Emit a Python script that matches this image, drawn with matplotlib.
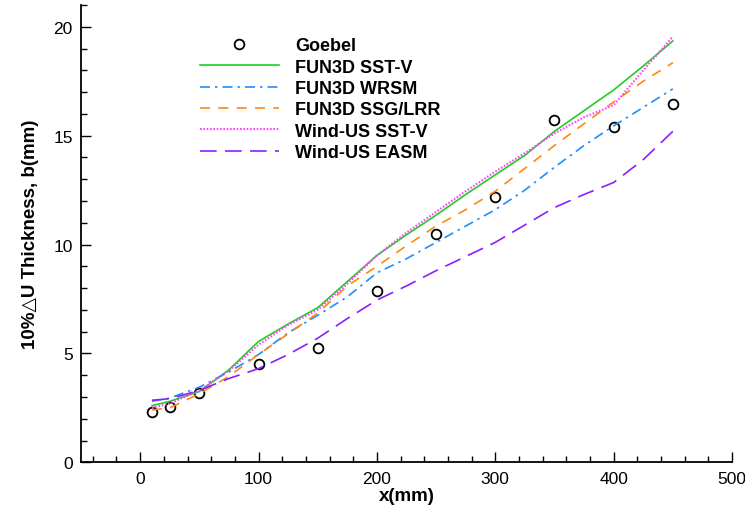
import numpy as np
import matplotlib
matplotlib.use("Agg")
import matplotlib.pyplot as plt
from matplotlib.ticker import MultipleLocator

plt.rcParams['font.family'] = ['Liberation Sans', 'DejaVu Sans']

# experiment
x_exp = [10, 25, 50, 100, 150, 200, 250, 300, 350, 400, 450]
b_exp = [2.31, 2.54, 3.18, 4.51, 5.24, 7.86, 10.5, 12.2, 15.7, 15.4, 16.44]

# CFD
x_cfd = [10, 25, 50, 75, 100, 125, 150, 175, 200, 225, 250, 275, 300, 325, 350, 375, 400, 425, 450]
fun3d_sst = [2.6, 2.8, 3.25, 4.25, 5.55, 6.35, 7.1, 8.3, 9.5, 10.45, 11.35, 12.3, 13.2, 14.1, 15.2, 16.15, 17.1, 18.2, 19.35]
fun3d_wrsm = [2.8, 2.95, 3.45, 4.15, 4.95, 5.95, 6.75, 7.6, 8.7, 9.35, 10.1, 10.85, 11.6, 12.5, 13.55, 14.55, 15.45, 16.3, 17.15]
fun3d_ssg = [2.4, 2.5, 3.15, 3.95, 4.95, 5.9, 6.85, 8.1, 9.0, 9.95, 10.85, 11.6, 12.45, 13.5, 14.55, 15.55, 16.55, 17.5, 18.35]
wind_sst = [2.5, 2.7, 3.3, 4.2, 5.4, 6.3, 7.0, 8.2, 9.5, 10.55, 11.5, 12.45, 13.35, 14.2, 15.1, 15.85, 16.4, 18.0, 19.55]
wind_easm = [2.85, 2.92, 3.3, 3.85, 4.3, 4.95, 5.7, 6.6, 7.45, 8.1, 8.8, 9.45, 10.1, 10.9, 11.7, 12.3, 12.85, 13.9, 15.2]


def plot_data():
	fig = plt.figure(figsize=(7.45, 5.1), dpi=100)
	ax = fig.add_axes([0.1087, 0.0916, 0.8739, 0.8966])

	ax.plot(x_exp, b_exp, 'o', mfc='none', mec='black', ms=7, mew=1.3, label="Goebel")
	ax.plot(x_cfd, fun3d_sst, c="#22cc22", lw=1.2, label="FUN3D SST-V")
	ax.plot(x_cfd, fun3d_wrsm, c="#1e8fff", lw=1.2, ls=(0, (6, 3, 1.5, 3)), label="FUN3D WRSM")
	ax.plot(x_cfd, fun3d_ssg, c="#ff8811", lw=1.2, ls=(0, (6, 5)), label="FUN3D SSG/LRR")
	ax.plot(x_cfd, wind_sst, c="#ff44ff", lw=1.5, ls=(0, (0.8, 0.8)), label="Wind-US SST-V")
	ax.plot(x_cfd, wind_easm, c="#8b1fff", lw=1.2, ls=(0, (10, 5)), label="Wind-US EASM")

	ax.set_xlim(-50, 500)
	ax.set_ylim(0, 21)
	ax.xaxis.set_major_locator(MultipleLocator(100))
	ax.xaxis.set_minor_locator(MultipleLocator(20))
	ax.yaxis.set_major_locator(MultipleLocator(5))
	ax.yaxis.set_minor_locator(MultipleLocator(1))
	ax.tick_params(which='both', direction='in', width=1.0, labelsize=12.5)
	ax.tick_params(which='major', length=7, pad=6)
	ax.tick_params(which='minor', length=4)
	ax.spines['top'].set_visible(False)
	ax.spines['right'].set_visible(False)
	ax.spines['left'].set_linewidth(1.3)
	ax.spines['bottom'].set_linewidth(1.3)

	ax.set_xlabel("x(mm)", fontsize=13.5, fontweight='bold', labelpad=1)
	ax.set_ylabel("10%\u25b3U Thickness, b(mm)", fontsize=13.5, fontweight='bold', labelpad=10)

	ax.legend(loc='upper left', bbox_to_anchor=(0.268, 0.925), bbox_transform=fig.transFigure,
		frameon=False, handlelength=4.4, handletextpad=0.9,
		labelspacing=0.24, borderpad=0, borderaxespad=0,
		prop={'weight': 'bold', 'size': 13})

	fig.savefig("out.png", dpi=100)


def main():
	plot_data()


if __name__ == "__main__":
	main()
